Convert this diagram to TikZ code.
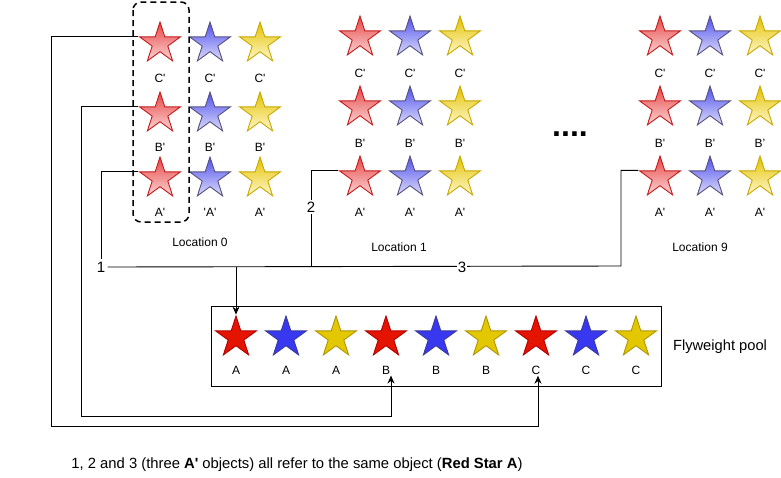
\documentclass[tikz,border=0pt]{standalone}
\usepackage{fontspec}
\setmainfont{Liberation Sans}
\usetikzlibrary{shapes.geometric, arrows.meta}

\definecolor{redtop}{HTML}{E74646}
\definecolor{redbot}{HTML}{FBD5D5}
\definecolor{redline}{HTML}{C41A1A}
\definecolor{bluetop}{HTML}{5050F0}
\definecolor{bluebot}{HTML}{DCDCFA}
\definecolor{blueline}{HTML}{56517E}
\definecolor{yellowtop}{HTML}{E3C300}
\definecolor{yellowbot}{HTML}{FFF7CC}
\definecolor{yellowline}{HTML}{C8A800}
\definecolor{poolred}{HTML}{E51400}
\definecolor{poolredline}{HTML}{B20000}
\definecolor{poolblue}{HTML}{3838F0}
\definecolor{poolblueline}{HTML}{3A3A9A}
\definecolor{poolyellow}{HTML}{E3C800}
\definecolor{poolyellowline}{HTML}{B09500}

\newcommand{\pr}{\textquotesingle}

\tikzset{
  star base/.style={star, star points=5, star point ratio=2.618,
    minimum size=43pt, inner sep=0pt},
  red star/.style={star base, draw=redline, top color=redtop, bottom color=redbot},
  blue star/.style={star base, draw=blueline, top color=bluetop, bottom color=bluebot},
  yellow star/.style={star base, draw=yellowline, top color=yellowtop, bottom color=yellowbot},
  pool red/.style={star base, draw=poolredline, fill=poolred},
  pool blue/.style={star base, draw=poolblueline, fill=poolblue},
  pool yellow/.style={star base, draw=poolyellowline, fill=poolyellow},
  lbl/.style={font=\fontsize{12}{14}\selectfont, inner sep=1pt},
  loc/.style={font=\fontsize{12}{14}\selectfont},
  num/.style={font=\fontsize{15}{17}\selectfont, inner sep=2pt},
}

\begin{document}
\begin{tikzpicture}[x=1pt, y=-1pt, >={Stealth[length=8pt, width=7pt]}, line width=0.9pt]
  \useasboundingbox (0,0) rectangle (781,477);

  % the three locations
  \foreach \n/\x/\yc/\yb/\ya/\tc/\tb/\ta/\ba/\wb in {
      0/160/43.5/113.5/178.5/78/147/212/{\pr A\pr}/{B\pr},
      1/360/37.5/107.5/177.5/73/143/212/{A\pr}/{B\pr},
      9/660/37.5/107.5/177.5/73/143/212/{A\pr}/{B\textquoteright}} {
    \foreach \col/\dx in {red/0, blue/50, yellow/100} {
      \node[\col\space star] (l\n\col c) at (\x+\dx,\yc) {};
      \node[\col\space star] (l\n\col b) at (\x+\dx,\yb) {};
      \node[\col\space star] (l\n\col a) at (\x+\dx,\ya) {};
      \node[lbl] (l\n\col ct) at (\x+\dx,\tc) {C\pr};
    }
    \foreach \col/\dx/\t in {red/0/B\pr, blue/50/B\pr, yellow/100/\wb}
      \node[lbl] (l\n\col bt) at (\x+\dx,\tb) {\t};
    \foreach \col/\dx/\t in {red/0/A\pr, blue/50/\ba, yellow/100/A\pr}
      \node[lbl] (l\n\col at) at (\x+\dx,\ta) {\t};
  }
  \node[loc] (loc0) at (200,242) {Location 0};
  \node[loc] (loc1) at (399,247) {Location 1};
  \node[loc] (loc9) at (700,247) {Location 9};
  \node[font=\fontsize{32}{32}\selectfont\bfseries, anchor=base] (dots) at (570,136) {....};

  % red column of location 0
  \draw[dashed, dash pattern=on 6pt off 4pt, line width=1.5pt, rounded corners=8pt]
    (133,2) rectangle (189,222);

  % flyweight pool
  \draw (211,306) rectangle (661,386);
  \foreach \col/\t [count=\i] in {red/A, blue/A, yellow/A, red/B, blue/B,
      yellow/B, red/C, blue/C, yellow/C} {
    \node[pool \col] (p\i) at (186+50*\i,337.5) {};
    \node[lbl] (p\i t) at (186+50*\i,370) {\t};
  }
  \node[font=\fontsize{14.7}{17}\selectfont] (pool) at (720,347) {Flyweight pool};

  % references
  \coordinate (c1) at (51,426);
  \coordinate (c2) at (81,416);
  \coordinate (j2) at (311,266);
  \coordinate (j9) at (621,266);
  \node[num] (n1) at (101,267) {1};
  \draw[->] (l0redc.outer point 2) -| (c1) -| ([xshift=2pt]p7t.south);
  \draw[->] (l0redb.outer point 2) -| (c2) -| ([xshift=5pt]p4t.south);
  \draw (l0reda.outer point 2) -| (n1.north);
  \draw (n1.east) -- (j9) |- (l9reda.outer point 2);
  \draw (l1reda.outer point 2) -| (j2);
  \draw[->] (p1 |- n1.east) -- (p1.outer point 1);
  \node[num, fill=white] (n2) at (311,207) {2};
  \node[num, fill=white, inner sep=1pt] (n3) at (462,267) {3};

  \node[font=\fontsize{14.8}{17}\selectfont, anchor=west, inner sep=0pt] (note) at (71,465)
    {1, 2 and 3 (three \textbf{A\pr} objects) all refer to the same object (\textbf{Red Star A})};
\end{tikzpicture}
\end{document}
